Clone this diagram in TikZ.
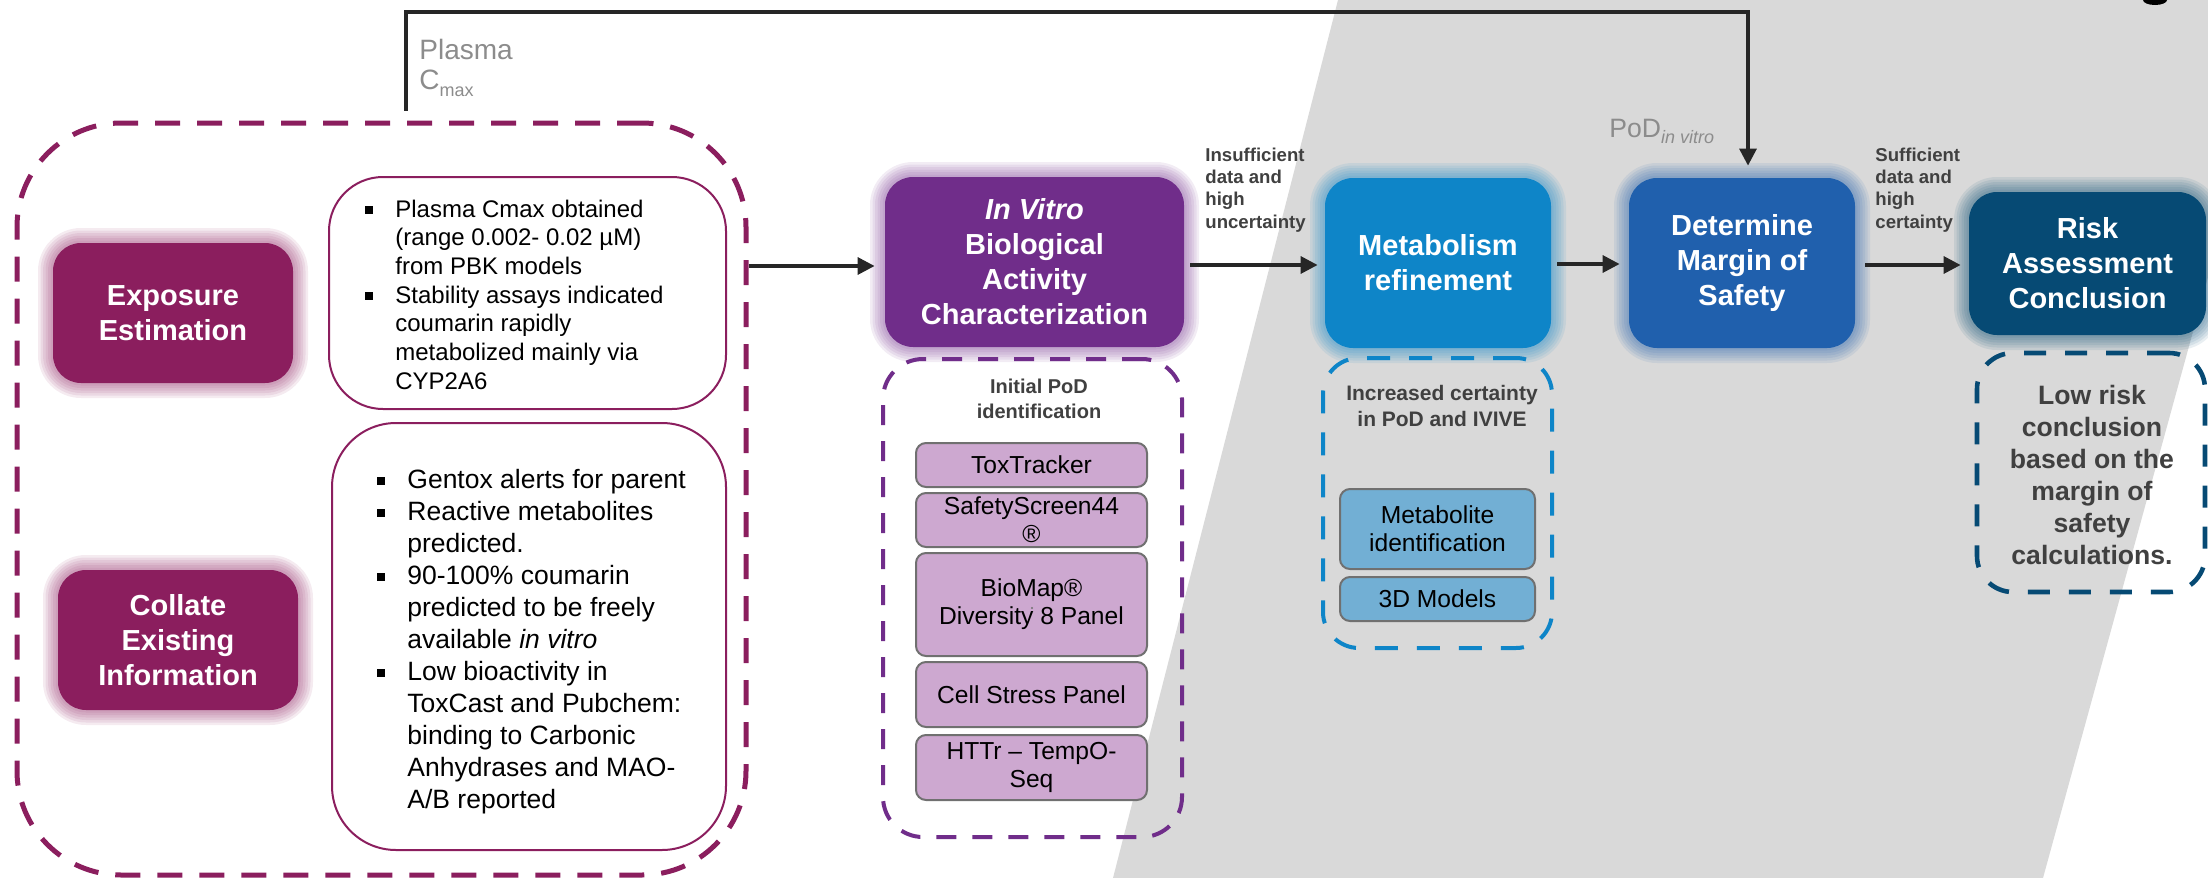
\documentclass[tikz,border=0pt]{standalone}
\usepackage{fontspec}
\setmainfont{Liberation Sans}
\usetikzlibrary{arrows.meta,calc}
\definecolor{mag}{RGB}{139,30,94}
\definecolor{pur}{RGB}{112,45,138}
\definecolor{lpur}{RGB}{205,168,208}
\definecolor{mblue}{RGB}{14,133,200}
\definecolor{lblue}{RGB}{114,175,212}
\definecolor{dblue}{RGB}{32,96,173}
\definecolor{nblue}{RGB}{6,74,116}
\definecolor{bggrey}{RGB}{217,217,217}
\definecolor{txtgrey}{RGB}{64,64,64}
\definecolor{lblgrey}{RGB}{140,140,140}
\definecolor{arrgrey}{RGB}{38,38,38}
\definecolor{subborder}{RGB}{112,112,112}
\newcommand{\sqbul}{\rule[1.6pt]{3.6pt}{3.8pt}}
\newcommand{\lowsub}[2]{\raisebox{-#1}{\fontsize{9}{10}\selectfont #2}}
\newcommand{\glowbox}[7]{%
  \foreach \g in {1,...,6}{%
    \fill[#6, opacity=0.09, rounded corners={14pt+\g*1.25pt}] ({#2-\g*2.5},{#3-\g*2.5}) rectangle ({#4+\g*2.5},{#5+\g*2.5});}
  \node[mainbox, fill=#6, minimum width={(#4-#2)*0.5pt}, minimum height={(#5-#3)*0.5pt}] (#1) at ({(#2+#4)/2},{(#3+#5)/2}) {#7};
}
\begin{document}
\begin{tikzpicture}[x=0.5pt, y=-0.5pt,
  mainbox/.style={rectangle, rounded corners=14pt, inner sep=0pt, text=white, align=center, font=\bfseries\fontsize{14.5}{17.5}\selectfont},
  dashbox/.style={draw, rectangle, inner sep=0pt, line width=2pt},
  whitebox/.style={draw=mag, rectangle, inner sep=0pt, line width=1pt, fill=white},
  subbox/.style={draw=subborder, rectangle, inner sep=0pt, line width=1pt, rounded corners=5pt, align=center, text=black, minimum width=115.5pt, font=\fontsize{12.3}{14}\selectfont},
  arr/.style={draw=arrgrey, line width=1.65pt, -{Triangle[length=8.5pt,width=8.5pt]}},
  lbl/.style={text=lblgrey, inner sep=0pt},
  slbl/.style={text=txtgrey, inner sep=0pt, font=\bfseries\fontsize{9.3}{11.2}\selectfont},
  bultext/.style={inner sep=0pt, text=black}
]
\useasboundingbox (0,0) rectangle (2208,878);
% grey background band
\fill[bggrey] (1338,0) -- (2208,0) -- (2208,277) -- (2043,878) -- (1113,878) -- cycle;
\fill[black] (2155,0) ellipse [x radius=12, y radius=5];

% dashed group boxes
\node[dashbox, draw=mag, line width=2.5pt, dash pattern=on 12.5pt off 8.5pt, rounded corners=52pt, minimum width=364.5pt, minimum height=376pt] (expo) at (381.5,499) {};
\node[dashbox, draw=pur, dash pattern=on 10pt off 8pt, rounded corners=20pt, minimum width=149.5pt, minimum height=239pt] (podgrp) at (1032.5,598) {};
\node[dashbox, draw=mblue, dash pattern=on 11.5pt off 9.5pt, rounded corners=18pt, minimum width=114.5pt, minimum height=145pt] (metgrp) at (1437.5,503) {};
\node[dashbox, draw=nblue, line width=2.3pt, dash pattern=on 11pt off 9.5pt, rounded corners=18pt, minimum width=114pt, minimum height=119.5pt] (riskgrp) at (2091,472.5) {};

% white info boxes
\node[whitebox, rounded corners=27pt, minimum width=198.5pt, minimum height=116pt] (info1) at (527.5,293) {};
\node[whitebox, rounded corners=32pt, minimum width=197pt, minimum height=213.5pt] (info2) at (529,636.5) {};

\node[bultext, anchor=base west, font=\fontsize{12}{14.35}\selectfont] (info1txt) at (365,217) {%
\begin{tabular}[t]{@{}p{15pt}@{}l@{}}
\sqbul & Plasma Cmax obtained\\
 & (range 0.002- 0.02 µM)\\
 & from PBK models\\
\sqbul & Stability assays indicated\\
 & coumarin rapidly\\
 & metabolized mainly via\\
 & CYP2A6
\end{tabular}};
\node[bultext, anchor=base west, font=\fontsize{13.25}{16}\selectfont] (info2txt) at (377,488) {%
\begin{tabular}[t]{@{}p{15pt}@{}l@{}}
\sqbul & Gentox alerts for parent\\
\sqbul & Reactive metabolites\\
 & predicted.\\
\sqbul & 90-100\% coumarin\\
 & predicted to be freely\\
 & available \textit{in vitro}\\
\sqbul & Low bioactivity in\\
 & ToxCast and Pubchem:\\
 & binding to Carbonic\\
 & Anhydrases and MAO-\\
 & A/B reported
\end{tabular}};

% main coloured boxes with glow
\glowbox{exp}{53}{243}{293}{383}{mag}{Exposure\\Estimation}
\glowbox{col}{58}{570}{298}{710}{mag}{Collate\\Existing\\Information}
\glowbox{ivb}{885}{177}{1184}{347}{pur}{\textit{In Vitro}\\Biological\\Activity\\Characterization}
\glowbox{meta}{1325}{178}{1551}{348}{mblue}{Metabolism\\refinement}
\glowbox{det}{1629}{178}{1855}{348}{dblue}{Determine\\Margin of\\Safety}
\glowbox{risk}{1969}{192}{2206}{335}{nblue}{Risk\\Assessment\\Conclusion}

% sub boxes
\node[subbox, fill=lpur, minimum height=22pt] (tox) at (1031.5,465) {ToxTracker};
\node[subbox, fill=lpur, minimum height=27pt] (safe) at (1031.5,520) {SafetyScreen44\\®};
\node[subbox, fill=lpur, minimum height=51.5pt] (bio) at (1031.5,604.5) {BioMap®\\Diversity 8 Panel};
\fill[subborder] (1032,608) circle [radius=1.2];
\node[subbox, fill=lpur, minimum height=32.5pt] (cell) at (1031.5,694.5) {Cell Stress Panel};
\node[subbox, fill=lpur, minimum height=32.5pt] (httr) at (1031.5,767.5) {HTTr – TempO-\\Seq};
\node[subbox, fill=lblue, minimum width=97.5pt, minimum height=40pt] (metid) at (1437.5,529) {Metabolite\\identification};
\node[subbox, fill=lblue, minimum width=97.5pt, minimum height=22pt] (models) at (1437.5,599) {3D Models};

% group captions
\node[slbl, anchor=base, font=\bfseries\fontsize{10}{12.5}\selectfont] (podcap) at (1039,393) {\begin{tabular}[t]{@{}c@{}}Initial PoD\\identification\end{tabular}};
\node[slbl, anchor=base, font=\bfseries\fontsize{10.5}{13}\selectfont] (metcap) at (1442,400.5) {\begin{tabular}[t]{@{}c@{}}Increased certainty\\in PoD and IVIVE\end{tabular}};
\node[slbl, anchor=base, font=\bfseries\fontsize{13.3}{16}\selectfont] (riskcap) at (2092,404.5) {\begin{tabular}[t]{@{}c@{}}Low risk\\conclusion\\based on the\\margin of\\safety\\calculations.\end{tabular}};

% arrow labels
\node[slbl, anchor=base west] (insuf) at (1205,161) {\begin{tabular}[t]{@{}l@{}}Insufficient\\data and\\high\\uncertainty\end{tabular}};
\node[slbl, anchor=base west] (suf) at (1875,161) {\begin{tabular}[t]{@{}l@{}}Sufficient\\data and\\high\\certainty\end{tabular}};
\node[lbl, anchor=base west, font=\fontsize{14}{15.5}\selectfont] (plasma) at (419,59) {\begin{tabular}[t]{@{}l@{}}Plasma\\C\lowsub{3pt}{max}\end{tabular}};
\node[lbl, anchor=base west, font=\fontsize{13.3}{15}\selectfont] (pod) at (1609,137) {PoD\lowsub{3pt}{\itshape in vitro}};

% connectors
\coordinate (fbA) at (406,12);
\coordinate (fbB) at (1748,12);
\draw[arr, shorten <=5pt, shorten >=6pt] (expo.north -| fbA) -- (fbA) -- (fbB) -- (det.north -| fbB);
\draw[arr, shorten >=5pt] (expo.east |- 0,266) -- (ivb.west |- 0,266);
\draw[arr, shorten <=3pt, shorten >=3.5pt] (ivb.east |- 0,265) -- (meta.west |- 0,265);
\draw[arr, shorten <=3pt, shorten >=4.5pt] (meta.east |- 0,264) -- (det.west |- 0,264);
\draw[arr, shorten <=5pt, shorten >=4pt] (det.east |- 0,265) -- (risk.west |- 0,265);
\end{tikzpicture}
\end{document}
